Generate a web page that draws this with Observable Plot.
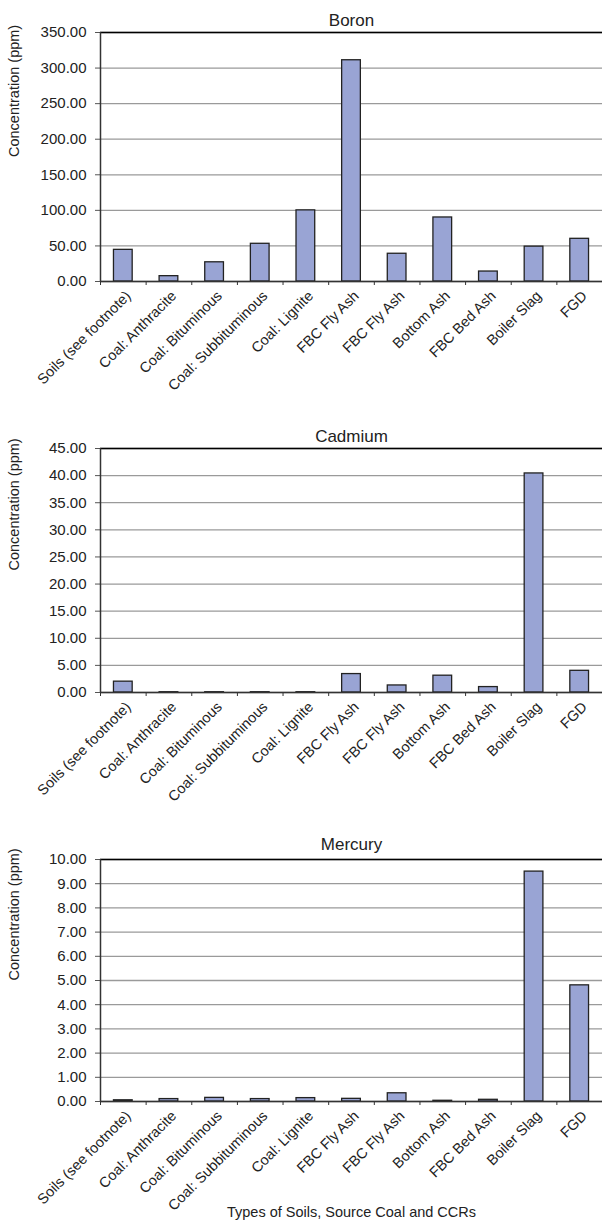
<!DOCTYPE html>
<html>
<head>
<meta charset="utf-8">
<script src="https://cdn.jsdelivr.net/npm/d3@7"></script>
<script src="https://cdn.jsdelivr.net/npm/@observablehq/plot@0.6"></script>
<style>
  html, body { margin: 0; padding: 0; background: #fff; }
  #chart svg { display: block; }
</style>
</head>
<body>
<div id="chart"></div>
<script>
const categories = ["Soils (see footnote)", "Coal: Anthracite", "Coal: Bituminous", "Coal: Subbituminous", "Coal: Lignite", "FBC Fly Ash", "FBC Fly Ash", "Bottom Ash", "FBC Bed Ash", "Boiler Slag", "FGD"];
const boron   = [44.5, 7.5, 27, 53, 100, 311, 39, 90, 14, 49, 60];
const cadmium = [2.0, 0.05, 0.05, 0.05, 0.05, 3.4, 1.3, 3.1, 1.0, 40.4, 4.0];
const mercury = [0.05, 0.10, 0.15, 0.10, 0.14, 0.11, 0.34, 0.03, 0.07, 9.5, 4.8];
const boronTicks   = [0, 50, 100, 150, 200, 250, 300, 350];
const cadmiumTicks = [0, 5, 10, 15, 20, 25, 30, 35, 40, 45];
const mercuryTicks = [0, 1, 2, 3, 4, 5, 6, 7, 8, 9, 10];
const yLabel = "Concentration (ppm)";
const xLabel = "Types of Soils, Source Coal and CCRs";

const FONT = "'Liberation Sans', Arial, Helvetica, sans-serif";
const idx = d3.range(categories.length);

function panel(title, values, ticks, height, mTop, mBottom, titleDy, showX) {
  const max = ticks[ticks.length - 1];
  const rows = idx.map(i => ({i, cat: categories[i], v: values[i]}));
  const marks = [
    Plot.gridY({ticks, stroke: "#9a9a9a", strokeOpacity: 1, strokeWidth: 1.3}),
    Plot.axisY({ticks, tickFormat: d3.format(".2f"), tickSize: 5, tickPadding: 9, stroke: "#555", label: null, fontSize: 15}),
    Plot.axisX({ticks: d3.range(categories.length + 1), tickFormat: () => "", tickSize: 4, stroke: "#333", label: null}),
    Plot.rectY(rows, {x1: d => d.i + 0.295, x2: d => d.i + 0.705, y1: 0, y2: "v", fill: "#99a4d4", stroke: "#222", strokeWidth: 1.3}),
    Plot.ruleY([max], {stroke: "#000", strokeWidth: 1.6}),
    Plot.ruleY([0], {stroke: "#333", strokeWidth: 1.5}),
    Plot.ruleX([0], {stroke: "#333", strokeWidth: 1.5}),
    Plot.text(rows, {x: d => d.i + 0.5, y: 0, text: "cat", rotate: -45, textAnchor: "end", dx: 5, dy: 12, fontSize: 14.5, fill: "#222"}),
    Plot.text([title], {frameAnchor: "top", dy: titleDy, fontSize: 17, fill: "#222"}),
    Plot.text([yLabel], {frameAnchor: "left", rotate: -90, dx: -86, fontSize: 14.5, fill: "#222"})
  ];
  if (showX) marks.push(Plot.text([xLabel], {frameAnchor: "bottom", dy: 115, fontSize: 14.5, fill: "#222"}));
  return Plot.plot({
    width: 602,
    height,
    marginLeft: 100,
    marginRight: 0,
    marginTop: mTop,
    marginBottom: mBottom,
    style: {fontFamily: FONT, fontSize: "15px", color: "#222", background: "#fff", overflow: "visible"},
    x: {type: "linear", domain: [0, categories.length], axis: null},
    y: {type: "linear", domain: [0, max], axis: null},
    marks
  });
}

const root = document.getElementById("chart");
root.append(panel("Boron", boron, boronTicks, 410, 32, 129, -19, false));
root.append(panel("Cadmium", cadmium, cadmiumTicks, 410, 38, 128, -19, false));
root.append(panel("Mercury", mercury, mercuryTicks, 406, 39, 125, -22, true));
</script>
</body>
</html>
